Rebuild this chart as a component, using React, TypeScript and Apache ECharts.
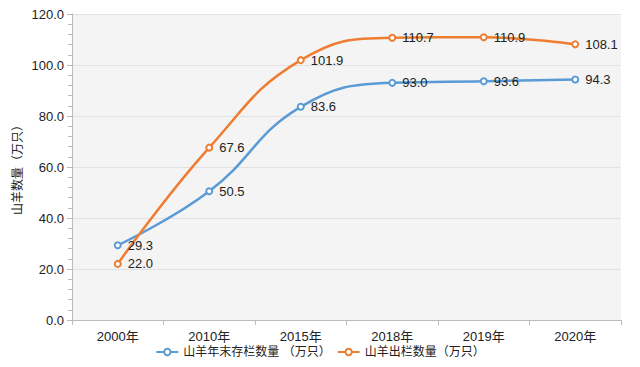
import React, { useEffect, useRef } from "react";
import * as echarts from "echarts";

const categories = ["2000年", "2010年", "2015年", "2018年", "2019年", "2020年"];
const stockValues = [29.3, 50.5, 83.6, 93.0, 93.6, 94.3];
const outValues = [22.0, 67.6, 101.9, 110.7, 110.9, 108.1];
const seriesNames = ["山羊年末存栏数量 （万只）", "山羊出栏数量（万只）"];
const yAxisName = "山羊数量（万只）";

export default function App() {
  const ref = useRef<HTMLDivElement>(null);
  useEffect(() => {
    if (!ref.current) return;
    const chart = echarts.init(ref.current, undefined, { renderer: "svg" });
    const font = "'Liberation Sans', 'Noto Sans CJK SC', sans-serif";
    const mk = (name: string, data: number[], color: string) => ({
      name,
      type: "line",
      data,
      smooth: 0.45,
      symbol: "emptyCircle",
      symbolSize: 6,
      lineStyle: { color, width: 2.5 },
      itemStyle: { color, borderWidth: 1.5 },
      label: {
        show: true,
        position: "right",
        distance: 6,
        color: "#222",
        fontSize: 13,
        fontFamily: font,
        formatter: (p: any) => Number(p.value).toFixed(1),
      },
    });
    chart.setOption({
      animation: false,
      textStyle: { fontFamily: font },
      grid: {
        left: 72,
        right: 19,
        top: 14,
        bottom: 47,
        show: true,
        backgroundColor: "#f4f4f4",
        borderWidth: 0,
      },
      legend: {
        bottom: 4,
        left: "center",
        itemWidth: 22,
        itemHeight: 8,
        itemGap: 6,
        textStyle: { fontSize: 12, color: "#222", fontFamily: font },
        data: seriesNames,
      },
      xAxis: {
        type: "category",
        data: categories,
        boundaryGap: true,
        axisLine: { lineStyle: { color: "#bbb" } },
        axisTick: { show: true, lineStyle: { color: "#bbb" } },
        axisLabel: { color: "#222", fontSize: 13, margin: 10, fontFamily: font },
      },
      yAxis: {
        type: "value",
        min: 0,
        max: 120,
        interval: 20,
        name: yAxisName,
        nameLocation: "middle",
        nameGap: 48,
        nameMoveOverlap: false,
        nameTextStyle: { color: "#222", fontSize: 12, fontFamily: font },
        axisLine: { show: true, lineStyle: { color: "#bbb" } },
        axisTick: { show: true, lineStyle: { color: "#bbb" } },
        minorTick: { show: true, splitNumber: 5, length: 4, lineStyle: { color: "#bbb" } },
        splitLine: { show: true, lineStyle: { color: "#e2e2e2" } },
        axisLabel: {
          color: "#222",
          fontSize: 13,
          fontFamily: font,
          formatter: (v: number) => v.toFixed(1),
        },
      },
      series: [
        mk(seriesNames[0], stockValues, "#5b9bd5"),
        mk(seriesNames[1], outValues, "#ed7d31"),
      ],
    });
    return () => chart.dispose();
  }, []);
  return <div ref={ref} style={{ width: 640, height: 367, position: "absolute", left: 0, top: 0 }} />;
}
